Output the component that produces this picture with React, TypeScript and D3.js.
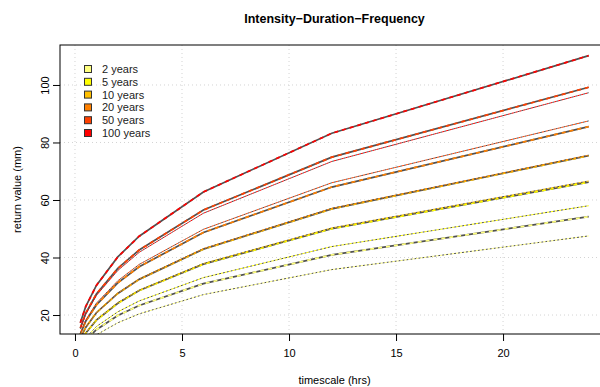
import { useRef, useEffect } from 'react';
import * as d3 from 'd3';

// durations (hours) of the curves
const durations = [0.25, 0.5, 1, 2, 3, 6, 12, 24];

const returnPeriods = ['2 years', '5 years', '10 years', '20 years', '50 years', '100 years'];
const colors = ['#FFFF80', '#FFFF00', '#FFBF00', '#FF8000', '#FF4000', '#FF0000'];

// fitted curves (solid) - return value in mm
const fit2 = [8.5, 11.3, 14.9, 19.8, 23.3, 30.9, 40.9, 54.2];
const fit5 = [10.4, 13.7, 18.2, 24.1, 28.5, 37.7, 50.0, 66.2];
const fit10 = [11.8, 15.7, 20.8, 27.5, 32.4, 42.9, 56.9, 75.4];
const fit20 = [13.4, 17.8, 23.5, 31.2, 36.8, 48.7, 64.5, 85.5];
const fit50 = [15.5, 20.6, 27.3, 36.2, 42.6, 56.5, 74.9, 99.2];
const fit100 = [17.3, 22.9, 30.3, 40.2, 47.4, 62.8, 83.2, 110.2];

// second set of curves (thin dashed)
const alt2 = [7.4, 9.9, 13.1, 17.3, 20.4, 27.1, 35.8, 47.5];
const alt5 = [9.1, 12.0, 16.0, 21.1, 24.9, 33.0, 43.8, 58.0];
const alt10 = [10.4, 13.8, 18.3, 24.3, 28.6, 37.9, 50.3, 66.6];
const alt20 = [11.8, 15.7, 20.8, 27.6, 32.5, 43.1, 57.1, 75.6];
const alt50 = [13.7, 18.2, 24.1, 31.9, 37.6, 49.8, 66.0, 87.5];
const alt100 = [15.2, 20.2, 26.8, 35.5, 41.8, 55.4, 73.4, 97.3];

const xTicks = [0, 5, 10, 15, 20];
const yTicks = [20, 40, 60, 80, 100];

const IdfChart = () => {
    const chartRef = useRef<SVGSVGElement>(null);

    useEffect(() => {
        if (!chartRef.current) return;
        d3.select(chartRef.current).selectAll('*').remove();

        const left = 60, top = 45, right = 609, bottom = 334;
        const font = '"Liberation Sans", Arial, Helvetica, sans-serif';

        const svg = d3.select(chartRef.current)
            .attr('width', 600)
            .attr('height', 387)
            .style('font-family', font);

        svg.append('rect').attr('width', 600).attr('height', 387).attr('fill', 'white');

        const x = d3.scaleLinear().domain([-0.7, 24.95]).range([left, right]);
        const y = d3.scaleLinear().domain([13.4, 113.9]).range([bottom, top]);

        // grid
        svg.append('g').selectAll('line').data(xTicks).enter().append('line')
            .attr('x1', d => x(d)).attr('x2', d => x(d))
            .attr('y1', top).attr('y2', bottom)
            .attr('stroke', '#d3d3d3').attr('stroke-dasharray', '1,3');
        svg.append('g').selectAll('line').data(yTicks).enter().append('line')
            .attr('x1', left).attr('x2', right)
            .attr('y1', d => y(d)).attr('y2', d => y(d))
            .attr('stroke', '#d3d3d3').attr('stroke-dasharray', '1,3');

        svg.append('clipPath').attr('id', 'plotclip')
            .append('rect').attr('x', left).attr('y', top)
            .attr('width', right - left).attr('height', bottom - top);

        const line = d3.line<number>()
            .x((_, i) => x(durations[i]))
            .y(d => y(d));

        const fits = [fit2, fit5, fit10, fit20, fit50, fit100];
        const alts = [alt2, alt5, alt10, alt20, alt50, alt100];

        const plot = svg.append('g').attr('clip-path', 'url(#plotclip)');

        fits.forEach((vals, i) => {
            plot.append('path').attr('d', line(alts[i]))
                .attr('fill', 'none').attr('stroke', '#505050')
                .attr('stroke-width', 1).attr('stroke-dasharray', '2,2');
            plot.append('path').attr('d', line(alts[i]))
                .attr('fill', 'none').attr('stroke', colors[i])
                .attr('stroke-width', 1).attr('stroke-dasharray', '2,2')
                .attr('stroke-dashoffset', 2);
            plot.append('path').attr('d', line(vals))
                .attr('fill', 'none').attr('stroke', '#505050')
                .attr('stroke-width', 1.7);
            plot.append('path').attr('d', line(vals))
                .attr('fill', 'none').attr('stroke', colors[i])
                .attr('stroke-width', 1.7).attr('stroke-dasharray', '4,4');
        });

        // box
        svg.append('rect')
            .attr('x', left).attr('y', top)
            .attr('width', right - left).attr('height', bottom - top)
            .attr('fill', 'none').attr('stroke', '#000').attr('stroke-width', 1);

        // axes
        const xAxis = svg.append('g')
            .attr('transform', `translate(0,${bottom})`)
            .call(d3.axisBottom(x).tickValues(xTicks).tickSize(7).tickPadding(8))
            .call(g => g.select('.domain').remove());
        xAxis.selectAll('text').attr('font-size', 11).attr('fill', '#000').style('font-family', font);

        const yAxis = svg.append('g')
            .attr('transform', `translate(${left},0)`)
            .call(d3.axisLeft(y).tickValues(yTicks).tickSize(7))
            .call(g => g.select('.domain').remove());
        yAxis.selectAll('text')
            .attr('font-size', 11).attr('fill', '#000').style('font-family', font)
            .attr('x', 0).attr('y', -11).attr('dy', 0)
            .attr('text-anchor', 'middle')
            .attr('transform', 'rotate(-90)');

        // titles
        svg.append('text')
            .attr('x', (left + right) / 2).attr('y', 23)
            .attr('text-anchor', 'middle')
            .attr('font-size', 12.5).attr('font-weight', 'bold')
            .text('Intensity\u2212Duration\u2212Frequency');

        svg.append('text')
            .attr('x', (left + right) / 2).attr('y', 384)
            .attr('text-anchor', 'middle')
            .attr('font-size', 11)
            .text('timescale (hrs)');

        svg.append('text')
            .attr('transform', `translate(21,${(top + bottom) / 2}) rotate(-90)`)
            .attr('text-anchor', 'middle')
            .attr('font-size', 11)
            .text('return value (mm)');

        // legend
        const legend = svg.append('g').attr('transform', 'translate(84,65)');
        legend.selectAll('rect')
            .data(returnPeriods)
            .enter()
            .append('rect')
            .attr('x', 0.5)
            .attr('y', (_, i) => i * 12.8 + 0.5)
            .attr('width', 7).attr('height', 7)
            .attr('fill', (_, i) => colors[i])
            .attr('stroke', '#333').attr('stroke-width', 1);
        legend.selectAll('text')
            .data(returnPeriods)
            .enter()
            .append('text')
            .attr('x', 18)
            .attr('y', (_, i) => i * 12.8 + 8)
            .attr('font-size', 11)
            .attr('fill', '#222')
            .text(d => d);
    }, []);

    return <svg ref={chartRef} style={{ position: 'absolute', left: 0, top: 0 }} />;
};

export default function App() {
    return <IdfChart />;
}
